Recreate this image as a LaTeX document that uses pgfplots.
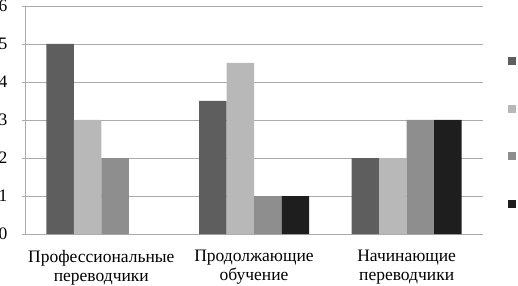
\documentclass[border=0pt]{standalone}
\usepackage{fontspec}
\setmainfont{Liberation Serif}
\newfontfamily\lserif{Liberation Serif}
\usepackage{pgfplots}
\pgfplotsset{compat=1.18}
\usetikzlibrary{calc}
\definecolor{sA}{HTML}{5E5E5E}
\definecolor{sB}{HTML}{B8B8B8}
\definecolor{sC}{HTML}{8E8E8E}
\definecolor{sD}{HTML}{1E1E1E}
\definecolor{gridc}{HTML}{ABABAB}
\begin{document}
\begin{tikzpicture}[font=\lserif]
\begin{axis}[
  scale only axis,
  width=458bp, height=228bp,
  ybar=0pt, bar width=27.5bp,
  xmin=-0.5, xmax=2.5, ymin=0, ymax=6,
  ytick={0,1,2,3,4,5,6},
  xtick={0,1,2},
  xticklabels={{Профессиональные\\переводчики},{Продолжающие\\обучение},{Начинающие\\переводчики}},
  extra x ticks={-0.5,0.5,1.5,2.5},
  extra x tick labels={},
  extra x tick style={major tick length=5bp, tick align=outside, xmajorgrids=false, tick style={gridc, line width=0.8bp}},
  major x tick style={draw=none},
  ymajorgrids,
  grid style={gridc, line width=0.8bp},
  y tick style={gridc, line width=0.8bp},
  major tick length=3bp,
  tick align=outside,
  axis x line*=bottom, axis y line*=left,
  axis line style={gridc, line width=0.8bp, -},
  /pgf/number format/assume math mode=true,
  tick label style={font=\lserif\fontsize{17.5bp}{19bp}\selectfont, black},
  xticklabel style={align=center, yshift=-10bp},
  yticklabel style={anchor=east, inner sep=0pt, xshift=-14.5bp},
  legend style={at={(rel axis cs:1.0546,0.776)}, anchor=north west, draw=none, fill=none, inner sep=0pt, row sep=39.5bp, nodes={inner sep=0pt}},
  legend image code/.code={\fill[#1] (0bp,-4bp) rectangle (8bp,4bp);},
]
\addplot[fill=sA, draw=none] coordinates {(0,5) (1,3.5) (2,2)};
\addlegendentry{}
\addplot[fill=sB, draw=none] coordinates {(0,3) (1,4.5) (2,2)};
\addlegendentry{}
\addplot[fill=sC, draw=none] coordinates {(0,2) (1,1) (2,3)};
\addlegendentry{}
\addplot[fill=sD, draw=none] coordinates {(1,1) (2,3)};
\addlegendentry{}
\coordinate (BL) at (rel axis cs:0,0);
\coordinate (TR) at (rel axis cs:1,1);
\end{axis}
\pgfresetboundingbox
\path[use as bounding box] ($(BL)+(-25bp,-52bp)$) rectangle ($(TR)+(35bp,6bp)$);
\end{tikzpicture}
\end{document}
